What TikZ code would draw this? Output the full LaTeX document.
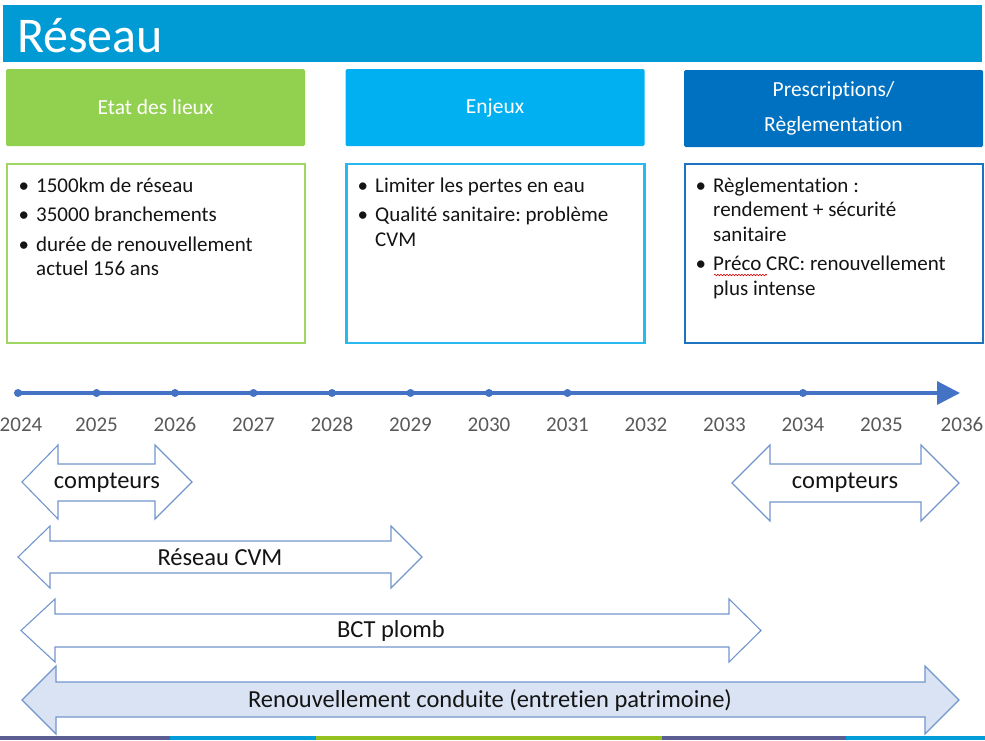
\documentclass[tikz,border=0pt]{standalone}
\usepackage{fontspec}
\setmainfont[Ligatures=NoCommon]{Carlito}
\usetikzlibrary{arrows.meta,decorations.pathmorphing}
\definecolor{titlebar}{RGB}{0,155,212}
\definecolor{hgreen}{RGB}{146,208,80}
\definecolor{hlblue}{RGB}{0,176,240}
\definecolor{hdblue}{RGB}{0,112,192}
\definecolor{bgreen}{RGB}{160,214,100}
\definecolor{blblue}{RGB}{40,185,238}
\definecolor{bdblue}{RGB}{30,115,190}
\definecolor{tlcol}{RGB}{68,114,196}
\definecolor{yearcol}{RGB}{89,89,89}
\definecolor{arrline}{RGB}{114,150,204}
\definecolor{arrfill}{RGB}{218,227,243}
\definecolor{txt}{RGB}{20,20,20}
\definecolor{stslate}{RGB}{91,94,146}
\definecolor{stcyan}{RGB}{0,157,217}
\definecolor{stgreen}{RGB}{149,193,31}
\frenchspacing
\newcommand{\bl}{\makebox[14pt][l]{\hspace{-3.5pt}•}}
\newcommand{\dblarr}[9]{%
  \draw[#1] (#2,{(#6+#9)/2}) -- (#3,#6) -- (#3,#7) -- (#4,#7) -- (#4,#6)
    -- (#5,{(#6+#9)/2}) -- (#4,#9) -- (#4,#8) -- (#3,#8) -- (#3,#9) -- cycle;}
\begin{document}
\begin{tikzpicture}[x=1pt,y=-1pt,
  hdrbox/.style={fill=#1, draw=none, rounded corners=1.5pt, text=white,
    minimum width=299pt, minimum height=77pt, inner sep=0pt,
    font=\fontsize{21.5}{35}\selectfont, align=center},
  cbox/.style={draw=#1, line width=2.5pt, minimum width=298pt,
    minimum height=179pt, inner sep=0pt},
  blist/.style={anchor=base west, inner sep=0pt, text=txt,
    font=\fontsize{21}{24.5}\selectfont},
  tline/.style={draw=tlcol, line width=3.5pt, -{Triangle[length=23pt,width=23pt]}},
  tdot/.style={fill=tlcol},
  yearlab/.style={text=yearcol, font=\fontsize{21}{25}\selectfont, inner sep=0pt, anchor=base},
  darrow/.style={draw=arrline, line width=1.1pt, line join=miter, fill=#1},
  darrow/.default=white,
  alab/.style={text=txt, font=\fontsize{24.5}{28}\selectfont, inner sep=0pt}]
\useasboundingbox (0,0) rectangle (985,740);
\clip (0,0) rectangle (985,740);

% title bar
\fill[titlebar] (3,5) rectangle (982,62);
\node[anchor=base west, inner sep=0pt, text=white,
  font=\fontsize{50}{58}\selectfont] (title) at (17,52) {Réseau};

% headers
\node[hdrbox=hgreen] (h1) at (155.5,107.5) {Etat des lieux};
\node[hdrbox=hlblue] (h2) at (495,107.5) {Enjeux};
\node[hdrbox=hdblue] (h3) at (833.5,108.5) {Prescriptions/\\Règlementation};

% content boxes
\node[cbox=bgreen] (b1) at (156,253.5) {};
\node[cbox=blblue] (b2) at (495.5,253.5) {};
\node[cbox=bdblue] (b3) at (834,253.5) {};

\node[blist] (l1) at (22,192) {\begin{tabular}[t]{@{}l@{}l@{}}
\bl & 1500km de réseau\\[5pt]
\bl & 35000 branchements\\[5pt]
\bl & durée de renouvellement\\
    & actuel 156 ans
\end{tabular}};
\node[blist] (l2) at (361,192) {\begin{tabular}[t]{@{}l@{}l@{}}
\bl & Limiter les pertes en eau\\[5pt]
\bl & Qualité sanitaire: problème\\
    & CVM
\end{tabular}};
\node[blist] (l3) at (699,192) {\begin{tabular}[t]{@{}l@{}l@{}}
\bl & Règlementation :\\
    & rendement + sécurité\\
    & sanitaire\\[5pt]
\bl & Préco CRC: renouvellement\\
    & plus intense
\end{tabular}};
\draw[red!85!black, line width=0.6pt, decorate,
  decoration={snake, amplitude=0.8pt, segment length=3pt}] (714,275) -- (767,275);

% timeline
\coordinate (t0) at (18,393);
\coordinate (t1) at (960,393);
\draw[tline] (t0) -- (t1);
\foreach \i in {0,1,2,3,4,5,6,7,10}
  \fill[tdot] ({18+78.5*\i},393) circle (4pt);
\node[yearlab] (y0) at (21,431) {2024};
\foreach \i in {1,...,11}{
  \pgfmathtruncatemacro\yr{2024+\i}
  \node[yearlab] (y\i) at ({18+78.5*\i},431) {\yr};
}
\node[yearlab] (y12) at (962,431) {2036};

% double arrows
\dblarr{darrow}{22}{58}{155}{192}{445}{464}{501}{519}
\node[alab] (a1) at (107,483) {compteurs};
\dblarr{darrow}{18}{50}{391}{422}{526}{541}{573}{588}
\node[alab] (a2) at (220,557) {Réseau CVM};
\dblarr{darrow}{21}{55}{729}{761}{599}{614}{647}{662}
\node[alab] (a3) at (391,631) {BCT plomb};
\dblarr{darrow=arrfill}{22}{56}{925}{959}{666}{682}{717}{734}
\node[alab] (a4) at (490,700) {Renouvellement conduite (entretien patrimoine)};
\dblarr{darrow}{732}{770}{921}{959}{445}{464}{502}{521}
\node[alab] (a5) at (845,483) {compteurs};

% bottom strip
\fill[stslate] (0,736) rectangle (170,740);
\fill[stcyan] (170,736) rectangle (316,740);
\fill[stgreen] (316,736) rectangle (662,740);
\fill[stslate] (662,736) rectangle (846,740);
\fill[stcyan] (846,736) rectangle (985,740);
\end{tikzpicture}
\end{document}
